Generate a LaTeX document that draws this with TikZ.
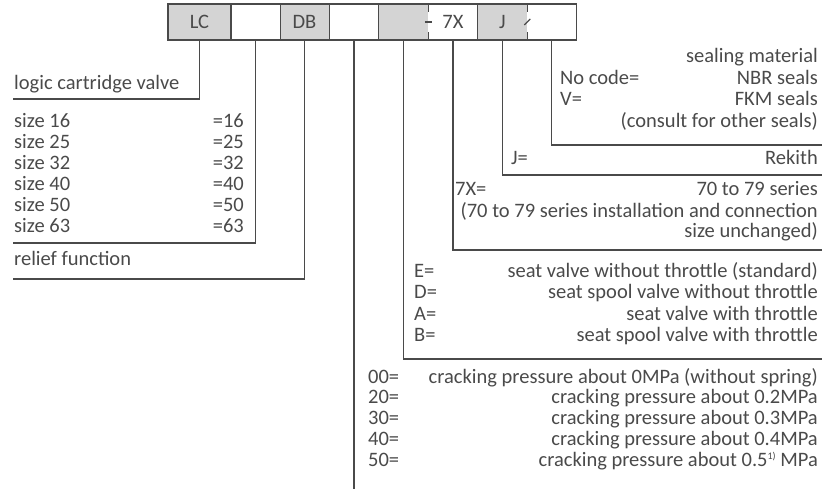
\documentclass[tikz,border=0pt]{standalone}
\usepackage{fontspec}
\setmainfont{Carlito}
\definecolor{ink}{HTML}{4A4A4A}
\definecolor{cellgray}{HTML}{D4D4D4}

\begin{document}
\begin{tikzpicture}[
    x=1pt, y=-1pt,
    font=\fontsize{20.5}{24}\selectfont,
    every node/.style={text=ink, inner sep=0pt},
    cell/.style={rectangle, minimum width=49.5pt, minimum height=36pt, outer sep=0pt},
    grey/.style={cell, fill=cellgray},
    frame/.style={draw=ink, line width=1.1pt},
    lead/.style={draw=ink, line width=1.1pt},
    lt/.style={anchor=mid west},
    rt/.style={anchor=mid east},
]
    \useasboundingbox (0,0) rectangle (823,489);

    % Code boxes
    \node[grey, minimum width=63pt] (lc) at (199.5,22) {LC};
    \node[cell] (sz) at (255.5,22) {};
    \node[grey] (db) at (304.5,22) {DB};
    \node[cell] (fn) at (354,22) {};
    \node[grey] (ty) at (403.5,22) {};
    \node[cell] (sr) at (453,22) {7X};
    \node[grey] (mk) at (502.5,22) {J};
    \node[cell] (sl) at (551.5,22) {};
    \draw[frame] (lc.north west) rectangle (sl.south east);
    \foreach \c in {lc,sz,db,fn,sr}
        \draw[frame] (\c.north east) -- (\c.south east);
    \foreach \c in {ty,mk} {
        \draw[frame] (\c.north east) -- ++(0,8);
        \draw[frame] (\c.south east) -- ++(0,-8);
    }
    \draw[frame] ([xshift=-3.5]ty.east) -- ([xshift=3.5]ty.east);
    \draw[frame] ([shift={(-3,3)}]mk.east) -- ([shift={(3,-3)}]mk.east);

    % Left side
    \node[lt] (lcv) at (14,87) {logic cartridge valve};
    \foreach \s [count=\i] in {16,25,32,40,50,63} {
        \node[lt] (size\s) at (14,{104+21*\i}) {size \s};
        \node[rt] (eq\s) at (244,{104+21*\i}) {=\s};
    }
    \node[lt] (relief) at (14,263) {relief function};
    \coordinate (lcend) at (13,99);
    \coordinate (szend) at (13,243);
    \coordinate (dbend) at (13,279);
    \coordinate (fnend) at (354,489);
    \draw[lead] (lc.south) |- (lcend);
    \draw[lead] (sz.south) |- (szend);
    \draw[lead] (db.south) |- (dbend);
    \draw[lead] (fn.south) -- (fnend);

    % Right side - seals
    \node[rt] (seal) at (818,60) {sealing material};
    \node[lt] (nbrc) at (560,82) {No code=};
    \node[rt] (nbr) at (818,82) {NBR seals};
    \node[lt] (fkmc) at (560,103) {V=};
    \node[rt] (fkm) at (818,103) {FKM seals};
    \node[rt] (other) at (818,125) {(consult for other seals)};
    \coordinate (slend) at (822,145);
    \draw[lead] (sl.south) |- (slend);

    % Right side - brand and series
    \node[lt] (rekc) at (511,162) {J=};
    \node[rt] (rek) at (818,162) {Rekith};
    \coordinate (mkend) at (822,175);
    \draw[lead] (mk.south) |- (mkend);
    \node[lt] (serc) at (455,193) {7X=};
    \node[rt] (ser) at (818,193) {70 to 79 series};
    \node[rt] (inst1) at (818,215) {(70 to 79 series installation and connection};
    \node[rt] (inst2) at (818,235) {size unchanged)};
    \coordinate (srend) at (822,250);
    \draw[lead] (sr.south) |- (srend);

    % Right side - valve type
    \foreach \k/\t [count=\i] in {E/seat valve without throttle (standard),
                                  D/seat spool valve without throttle,
                                  A/seat valve with throttle,
                                  B/seat spool valve with throttle} {
        \node[lt] (typc\k) at (414,{254+21.3*\i}) {\k=};
        \node[rt] (typ\k) at (818,{254+21.3*\i}) {\t};
    }
    \coordinate (tyend) at (822,359);
    \draw[lead] (ty.south) |- (tyend);

    % Cracking pressure
    \node[lt] (crc00) at (368,381) {00=};
    \node[rt] (cr00) at (818,381) {cracking pressure about 0MPa (without spring)};
    \foreach \p [count=\i] in {2,3,4} {
        \node[lt] (crc\p) at (368,{381+20.6*\i}) {\p0=};
        \node[rt] (cr\p) at (818,{381+20.6*\i}) {cracking pressure about 0.\p MPa};
    }
    \node[lt] (crc5) at (368,464) {50=};
    \node[rt] (cr5) at (818,464) {cracking pressure about 0.5\smash{\raisebox{0.7ex}{\fontsize{10}{10}\selectfont 1)}} MPa};
\end{tikzpicture}
\end{document}
